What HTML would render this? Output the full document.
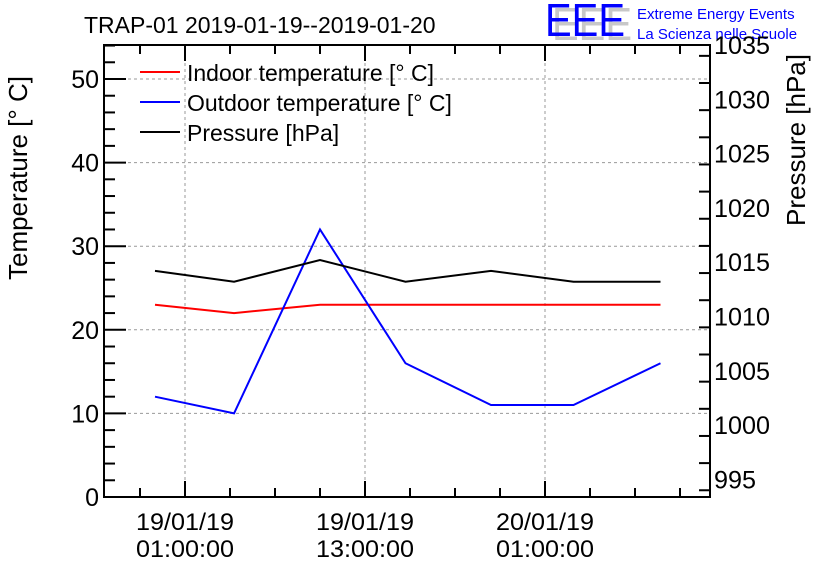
<!DOCTYPE html>
<html><head><meta charset="utf-8"><style>
body{margin:0;background:#fff}
svg{display:block;font-family:"Liberation Sans",sans-serif}
</style></head><body>
<svg id="c" width="836" height="572" xmlns="http://www.w3.org/2000/svg">
<text x="84" y="33" font-size="23">TRAP-01 2019-01-19--2019-01-20</text>
<g>
<text x="552" y="40" font-size="46" fill="#c8c8c8" textLength="80" lengthAdjust="spacingAndGlyphs">EEE</text>
<text x="545" y="36" font-size="46" fill="#0000ff" textLength="80" lengthAdjust="spacingAndGlyphs">EEE</text>
<text x="637" y="19" font-size="15" fill="#0000ff">Extreme Energy Events</text>
<text x="637" y="39" font-size="15" fill="#0000ff">La Scienza nelle Scuole</text>
</g>
<g id="grid"></g>
<g id="axes"></g>
<g id="series"></g>
<text transform="translate(27,178) rotate(-90)" text-anchor="middle" font-size="26">Temperature [° C]</text>
<text transform="translate(805,140) rotate(-90)" text-anchor="middle" font-size="26">Pressure [hPa]</text>
<g>
<line x1="140" y1="72" x2="180" y2="72" stroke="#ff0000" stroke-width="2"/>
<text x="187" y="81" font-size="23">Indoor temperature [° C]</text>
<line x1="140" y1="102" x2="180" y2="102" stroke="#0000ff" stroke-width="2"/>
<text x="187" y="111" font-size="23">Outdoor temperature [° C]</text>
<line x1="140" y1="132" x2="180" y2="132" stroke="#000" stroke-width="2"/>
<text x="187" y="141" font-size="23">Pressure [hPa]</text>
</g>
</svg>
<script>
const hours=[-2,3.27,9,14.7,20.4,25.9,31.7];
const indoor=[23,22,23,23,23,23,23];
const outdoor=[12,10,32,16,11,11,16];
const pressure=[1014.2,1013.2,1015.2,1013.2,1014.2,1013.2,1013.2];
const tempTicks=[0,10,20,30,40,50];
const presTicks=[995,1000,1005,1010,1015,1020,1025,1030,1035];
const timeTicks=[0,12,24];
const timeLabels=[["19/01/19","01:00:00"],["19/01/19","13:00:00"],["20/01/19","01:00:00"]];
const L=104,R=710,T=45,B=497;
const x=h=>185+h*15;
const yT=v=>B-v*8.36;
const yP=v=>45-(v-1035)*10.86;
const NS="http://www.w3.org/2000/svg";
function mk(tag,at,parent){const e=document.createElementNS(NS,tag);for(const k in at)e.setAttribute(k,at[k]);parent.appendChild(e);return e;}
const grid=document.getElementById('grid'),axes=document.getElementById('axes'),ser=document.getElementById('series');
tempTicks.forEach(v=>{if(v>0){const g=mk('line',{x1:L,x2:R,y1:yT(v),y2:yT(v),stroke:'#999','stroke-dasharray':'3,3'},grid);

}});
timeTicks.forEach(h=>{const g=mk('line',{x1:x(h),x2:x(h),y1:T,y2:B,stroke:'#999','stroke-dasharray':'3,3'},grid);

});
const fr=mk('rect',{x:L,y:T,width:R-L,height:B-T,fill:'none',stroke:'#000','stroke-width':2},axes);


for(let v=0;v<=54;v+=2){const big=v%10==0;mk('line',{x1:L,x2:L+(big?22:11),y1:yT(v),y2:yT(v),stroke:'#000','stroke-width':2},axes);}
tempTicks.forEach(v=>{const t=mk('text',{x:L-5,y:yT(v)+9,'font-size':25,'text-anchor':'end'},axes);t.textContent=v;

});
for(let v=994;v<=1035;v+=2.5){const big=v%5==0;mk('line',{x1:R,x2:R-(big?22:11),y1:yP(v),y2:yP(v),stroke:'#000','stroke-width':2},axes);}
presTicks.forEach(v=>{const t=mk('text',{x:R+4,y:yP(v)+9,'font-size':25,textLength:(v<1000?42:56),lengthAdjust:'spacingAndGlyphs'},axes);t.textContent=v;

});
for(let h=-3;h<=33;h+=3){const big=h%12==0;const px=x(h);if(px<=L||px>=R)continue;
mk('line',{x1:px,x2:px,y1:B,y2:B-(big?16:9),stroke:'#000','stroke-width':2},axes);mk('line',{x1:px,x2:px,y1:T,y2:T+(big?16:9),stroke:'#000','stroke-width':2},axes);}
timeTicks.forEach((h,i)=>{timeLabels[i].forEach((s,j)=>{const t=mk('text',{x:x(h),y:530+j*27,'font-size':24,'text-anchor':'middle',textLength:98,lengthAdjust:'spacingAndGlyphs'},axes);t.textContent=s;

});});
function line(vals,fy,col,name){const p=mk('polyline',{points:vals.map((v,i)=>x(hours[i])+','+fy(v)).join(' '),fill:'none',stroke:col,'stroke-width':2},ser);

}
line(indoor,yT,'#ff0000','indoor-line');
line(outdoor,yT,'#0000ff','outdoor-line');
line(pressure,yP,'#000000','pressure-line');
</script>
</body></html>
